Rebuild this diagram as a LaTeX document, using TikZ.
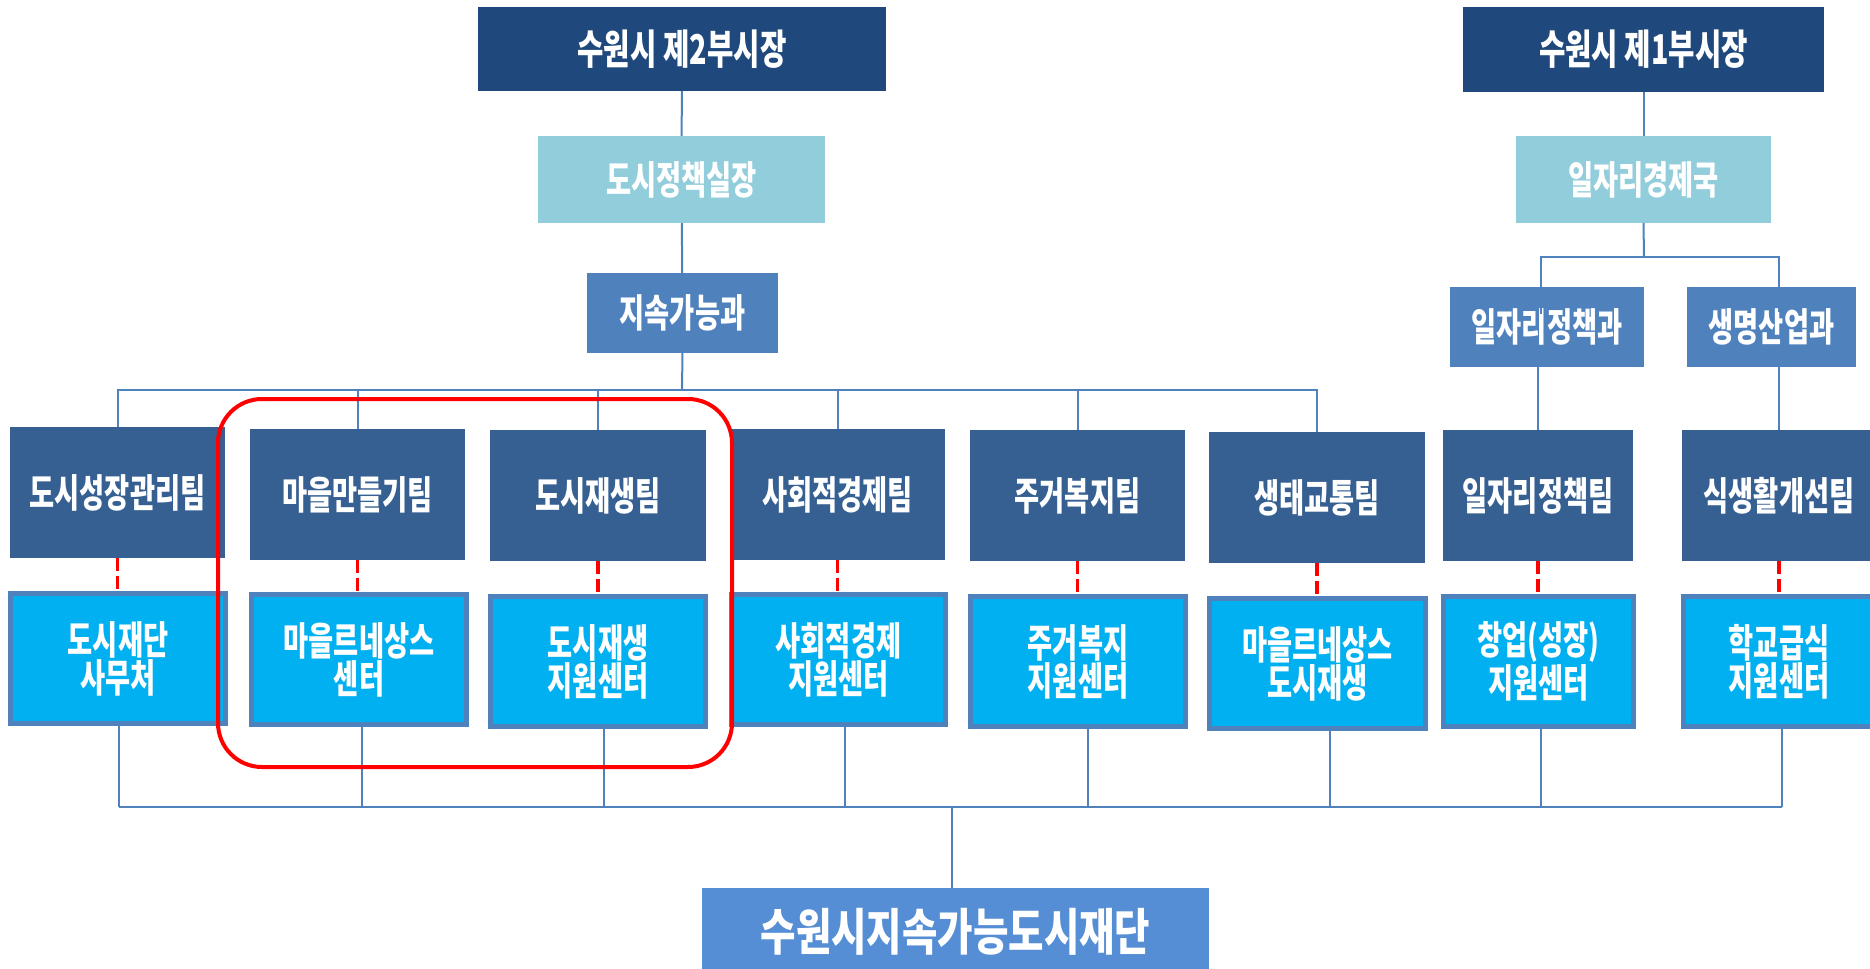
\documentclass[tikz,border=0pt]{standalone}
\usepackage{fontspec}
\newfontfamily\kr{Noto Sans CJK KR}[FakeStretch=0.7]
\newfontfamily\krwide{Noto Sans CJK KR}[FakeStretch=0.77]
\definecolor{navy}{RGB}{31,73,125}
\definecolor{paleblue}{RGB}{146,205,220}
\definecolor{midblue}{RGB}{79,129,189}
\definecolor{teamblue}{RGB}{54,96,146}
\definecolor{cyanbox}{RGB}{0,176,240}
\definecolor{fndblue}{RGB}{85,142,213}
\definecolor{linkblue}{RGB}{79,129,189}
\tikzset{
  base/.style={rectangle, inner sep=0pt, outer sep=0pt, text=white, align=center,
    font=\kr\bfseries\fontsize{19.5pt}{19pt}\selectfont},
  topbox/.style={base, fill=navy, font=\kr\bfseries\fontsize{20.5pt}{20pt}\selectfont},
  divbox/.style={base, fill=paleblue},
  secbox/.style={base, fill=midblue},
  teambox/.style={base, fill=teamblue, minimum height=65.5pt},
  ctrbox/.style={base, fill=cyanbox, draw=midblue, line width=2.5pt, minimum height=65pt},
  fndbox/.style={base, fill=fndblue, font=\krwide\bfseries\fontsize{25pt}{26pt}\selectfont},
  link/.style={draw=linkblue, line width=1pt},
  reddash/.style={draw=red, line width=1.8pt, dash pattern=on 6.5pt off 2.5pt},
  hilite/.style={draw=red, line width=2pt, rounded corners=22pt}
}
\begin{document}
\begin{tikzpicture}[x=0.5pt, y=-0.5pt]
\useasboundingbox (0,0) rectangle (1870,969);
\begin{scope}
\clip (0,0) rectangle (1870,969);
% top hierarchy (left)
\node[topbox, minimum width=204pt, minimum height=42pt] (v2) at (682,49) {수원시 제2부시장};
\node[divbox, minimum width=143.5pt, minimum height=43.5pt] (dept) at (681.5,179.5) {도시정책실장};
\node[secbox, minimum width=95.5pt, minimum height=40pt] (sus) at (682.5,313) {지속가능과};
% top hierarchy (right)
\node[topbox, minimum width=180.5pt, minimum height=42.5pt] (v1) at (1643.5,49.5) {수원시 제1부시장};
\node[divbox, minimum width=127.5pt, minimum height=43.5pt] (eco) at (1643.5,179.5) {일자리경제국};
\node[secbox, minimum width=97pt, minimum height=40pt] (jobdiv) at (1547,327) {일자리정책과};
\node[secbox, minimum width=84.5pt, minimum height=40pt] (bio) at (1771.5,327) {생명산업과};
% teams
\node[teambox, minimum width=107.5pt] (t1) at (117.5,492.5) {도시성장관리팀};
\node[teambox, minimum width=107.5pt] (t2) at (357.5,494.5) {마을만들기팀};
\node[teambox, minimum width=108pt] (t3) at (598,495.5) {도시재생팀};
\node[teambox, minimum width=107.5pt] (t4) at (837.5,494.5) {사회적경제팀};
\node[teambox, minimum width=107.5pt] (t5) at (1077.5,495.5) {주거복지팀};
\node[teambox, minimum width=108pt] (t6) at (1317,497.5) {생태교통팀};
\node[teambox, minimum width=95pt] (t7) at (1538,495.5) {일자리정책팀};
\node[teambox, minimum width=97pt] (t8) at (1779,495.5) {식생활개선팀};
% centres
\node[ctrbox, minimum width=107.5pt] (c1) at (118,658.5) {도시재단\\사무처};
\node[ctrbox, minimum width=107.5pt] (c2) at (359,659.5) {마을르네상스\\센터};
\node[ctrbox, minimum width=107.5pt] (c3) at (598,661.5) {도시재생\\지원센터};
\node[ctrbox, minimum width=107pt] (c4) at (838.5,659.5) {사회적경제\\지원센터};
\node[ctrbox, minimum width=107.5pt] (c5) at (1078,661.5) {주거복지\\지원센터};
\node[ctrbox, minimum width=108pt] (c6) at (1317.5,663.5) {마을르네상스\\도시재생};
\node[ctrbox, minimum width=95pt] (c7) at (1538.5,661.5) {창업(성장)\\지원센터};
\node[ctrbox, minimum width=95.5pt] (c8) at (1779,661.5) {학교급식\\지원센터};
% foundation
\node[fndbox, minimum width=253.5pt, minimum height=44pt] (fnd) at (955.5,932) {수원시지속가능도시재단};

% connectors: left top hierarchy
\draw[link] (v2) -- (dept);
\draw[link] (dept) -- (sus);
\coordinate (tb) at (682,390);
\draw[link] (sus.south) -- (tb);
\foreach \t in {t1,t2,t3,t4,t5,t6} \draw[link] (tb) -| (\t.north);
% connectors: right top hierarchy
\draw[link] (v1) -- (eco);
\coordinate (rb) at (1644,257);
\draw[link] (eco.south) -- (rb);
\coordinate (jl) at (1541,314);
\coordinate (bl) at (1779,312);
\draw[link] (rb) -| (jl);
\draw[link] (rb) -| (bl);
\draw[link] (jobdiv.south -| t7.north) -- (t7.north);
\draw[link] (bio.south -| t8.north) -- (t8.north);
% red dashed team-centre links
\foreach \n in {1,...,8} \draw[reddash] (t\n.south) -- (t\n.south |- c\n.north);
% bottom bus
\coordinate (b1) at (119,807);
\coordinate (b2) at (362,807);
\coordinate (b3) at (604,807);
\coordinate (b4) at (845,807);
\coordinate (b5) at (1088,807);
\coordinate (b6) at (1330,807);
\coordinate (b7) at (1541,807);
\coordinate (b8) at (1782,807);
\foreach \n in {1,...,8} \draw[link] (c\n.south -| b\n) -- (b\n);
\draw[link] (b1) -- (b8);
\coordinate (bm) at (952,807);
\draw[link] (bm) -- (bm |- fnd.north);
% highlight
\node[hilite, minimum width=257pt, minimum height=184pt] (hl) at (475,583) {};
\end{scope}
\end{tikzpicture}
\end{document}
